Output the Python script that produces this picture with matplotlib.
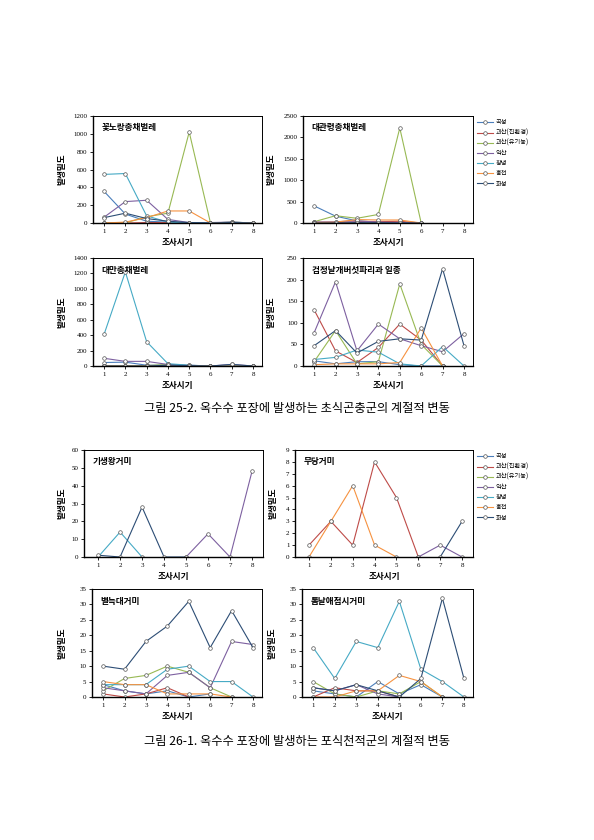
import numpy as np
import matplotlib
matplotlib.use('Agg')
import matplotlib.pyplot as plt
from matplotlib.lines import Line2D

plt.rcParams['font.family'] = ['Noto Sans CJK KR', 'DejaVu Sans']

nan = np.nan

# 조사시기
periods = [1, 2, 3, 4, 5, 6, 7, 8]
regions = ['곡성', '괴산(친환경)', '괴산(유기농)', '익산', '창녕', '홍천', '화성']
colors = ['#4A7EBB', '#BE4B48', '#98B954', '#7D60A0', '#46AAC5', '#F69240', '#2C4D75']

# 그림 25-2 초식곤충군
thrips_flower = {
    '곡성': [355, 100, 20, 10, 0, 0, 10, 0],
    '괴산(친환경)': [0, 0, 5, 5, 0, 0, 0, 0],
    '괴산(유기농)': [0, 0, 70, 110, 1020, 0, 10, 0],
    '익산': [65, 240, 255, 40, 5, 5, 10, 0],
    '창녕': [545, 555, 80, 10, 0, 0, 5, 0],
    '홍천': [0, 10, 60, 135, 135, 0, 0, 0],
    '화성': [60, 110, 50, 20, 5, 0, 5, 0],
}
thrips_daegwan = {
    '곡성': [400, 160, 50, 20, 10, 0, nan, nan],
    '괴산(친환경)': [20, 10, 30, 30, 40, 0, nan, nan],
    '괴산(유기농)': [30, 170, 110, 200, 2220, 0, nan, nan],
    '익산': [20, 30, 50, 20, 10, 0, nan, nan],
    '창녕': [0, 0, 0, 0, 0, 0, nan, nan],
    '홍천': [10, 20, 80, 70, 70, 0, nan, nan],
    '화성': [0, 0, 10, 5, 0, 0, nan, nan],
}
thrips_taiwan = {
    '곡성': [45, 50, 10, 10, 5, 0, 5, 0],
    '괴산(친환경)': [0, 0, 0, 0, 0, 0, 0, 0],
    '괴산(유기농)': [0, 0, 5, 20, 5, 0, 0, 0],
    '익산': [100, 60, 60, 20, 10, 0, 20, 0],
    '창녕': [410, 1220, 315, 30, 10, 0, 10, 0],
    '홍천': [0, 0, 0, 5, 0, 0, 0, 0],
    '화성': [0, 0, 0, 10, 5, 0, 20, 0],
}
fungus_gnat = {
    '곡성': [12, 5, 10, 10, 3, 0, 0, nan],
    '괴산(친환경)': [130, 35, 8, 43, 97, 60, 0, nan],
    '괴산(유기농)': [10, 82, 5, 10, 190, 50, 0, nan],
    '익산': [77, 195, 35, 97, 63, 47, 33, 75],
    '창녕': [15, 20, 37, 32, 5, 0, 45, 0],
    '홍천': [3, 5, 5, 5, 8, 88, 0, nan],
    '화성': [47, 82, 30, 57, 63, 60, 225, 47],
}

# 그림 26-1 포식천적군
spider_araneus = {
    '창녕': [0, 14, 0, nan, nan, nan, nan, nan],
    '화성': [1, 0, 28, 0, 0, nan, nan, nan],
    '익산': [nan, nan, nan, nan, 0, 13, 0, 48],
}
spider_nephila = {
    '괴산(친환경)': [1, 3, 1, 8, 5, 0, nan, nan],
    '홍천': [0, 3, 6, 1, 0, nan, nan, nan],
    '익산': [nan, nan, nan, nan, nan, 0, 1, 0],
    '화성': [nan, nan, nan, nan, nan, nan, 0, 3],
}
spider_pardosa = {
    '곡성': [4, 2, 1, 2, 0, 1, nan, nan],
    '괴산(친환경)': [1, 0, 1, 3, 0, nan, nan, nan],
    '괴산(유기농)': [2, 6, 7, 10, 8, 3, 0, nan],
    '익산': [3, 2, 1, 7, 8, 3, 18, 17],
    '창녕': [4, 4, 4, 9, 10, 5, 5, 0],
    '홍천': [5, 4, 4, 1, 1, 1, 0, nan],
    '화성': [10, 9, 18, 23, 31, 16, 28, 16],
}
spider_ummeliata = {
    '곡성': [2, 1, 0, 5, 1, 4, 0, nan],
    '괴산(친환경)': [0, 3, 2, 2, 0, nan, nan, nan],
    '괴산(유기농)': [5, 1, 0, 2, 1, 5, 0, nan],
    '익산': [3, 2, 4, 1, 0, nan, nan, nan],
    '창녕': [16, 6, 18, 16, 31, 9, 5, 0],
    '홍천': [0, 0, 2, 2, 7, 5, 0, nan],
    '화성': [3, 2, 4, 2, 0, 6, 32, 6],
}

W, H = 594, 840


def make_axes(fig, x0, x1, y0, y1):
    return fig.add_axes([x0 / W, 1 - y1 / H, (x1 - x0) / W, (y1 - y0) / H])


def draw_panel(ax, data, title, ymax, ystep, xlim, ylab_x):
    for name, col in zip(regions, colors):
        if name not in data:
            continue
        ax.plot(periods, data[name], color=col, lw=0.8, marker='o', ms=2.6,
                mfc='white', mec='#555555', mew=0.5)
    ax.set_xlim(*xlim)
    ax.set_ylim(0, ymax)
    ax.set_xticks(periods)
    ax.set_yticks(np.arange(0, ymax + ystep / 2, ystep))
    ax.tick_params(labelsize=5, length=2, width=0.6, pad=2)
    for lab in ax.get_xticklabels() + ax.get_yticklabels():
        lab.set_family('Liberation Serif')
    for s in ax.spines.values():
        s.set_linewidth(0.7)
    ax.spines['left'].set_linewidth(1.0)
    ax.spines['bottom'].set_linewidth(1.0)
    ax.text(0.05, 0.93, title, transform=ax.transAxes, fontsize=6.2,
            fontweight='bold', va='top', ha='left')
    ax.set_xlabel('조사시기', fontsize=6.2, fontweight='bold', labelpad=3)
    ax.set_ylabel('발생밀도', fontsize=6.2, fontweight='bold')
    ax.yaxis.set_label_coords(ylab_x, 0.5)


fig = plt.figure(figsize=(W / 100, H / 100), dpi=100)

ax1 = make_axes(fig, 93, 262, 116, 223)
draw_panel(ax1, thrips_flower, '꽃노랑총채벌레', 1200, 200, (0.48, 8.42), -0.16)
ax2 = make_axes(fig, 303, 473, 116, 223)
draw_panel(ax2, thrips_daegwan, '대관령총채벌레', 2500, 500, (0.48, 8.42), -0.16)
ax3 = make_axes(fig, 93, 262, 258, 366)
draw_panel(ax3, thrips_taiwan, '대만총채벌레', 1400, 200, (0.48, 8.42), -0.16)
ax4 = make_axes(fig, 303, 473, 258, 366)
draw_panel(ax4, fungus_gnat, '검정날개버섯파리과 일종', 250, 50, (0.48, 8.42), -0.16)

ax5 = make_axes(fig, 84, 263, 450, 557)
draw_panel(ax5, spider_araneus, '기생왕거미', 60, 10, (0.36, 8.5), -0.1)
ax6 = make_axes(fig, 295, 473, 450, 557)
draw_panel(ax6, spider_nephila, '무당거미', 9, 1, (0.36, 8.5), -0.1)
ax7 = make_axes(fig, 92, 262, 589, 697)
draw_panel(ax7, spider_pardosa, '별늑대거미', 35, 5, (0.48, 8.42), -0.15)
ax8 = make_axes(fig, 302, 473, 589, 697)
draw_panel(ax8, spider_ummeliata, '톱날애접시거미', 35, 5, (0.48, 8.42), -0.15)

handles = [Line2D([0], [0], color=c, lw=0.8, marker='o', ms=2.6, mfc='white',
                  mec='#555555', mew=0.5) for c in colors]
for ytop in (116, 450):
    fig.legend(handles, regions, loc='upper left',
               bbox_to_anchor=(474 / W, 1 - ytop / H), frameon=False,
               fontsize=4.5, handlelength=2.6, labelspacing=0.35,
               handletextpad=0.5, borderaxespad=0)

fig.text(0.5, 1 - 408 / H, '그림 25-2. 옥수수 포장에 발생하는 초식곤충군의 계절적 변동',
         ha='center', va='center', fontsize=8.8)
fig.text(0.5, 1 - 741 / H, '그림 26-1. 옥수수 포장에 발생하는 포식천적군의 계절적 변동',
         ha='center', va='center', fontsize=8.8)

fig.savefig('out.png', dpi=100)
